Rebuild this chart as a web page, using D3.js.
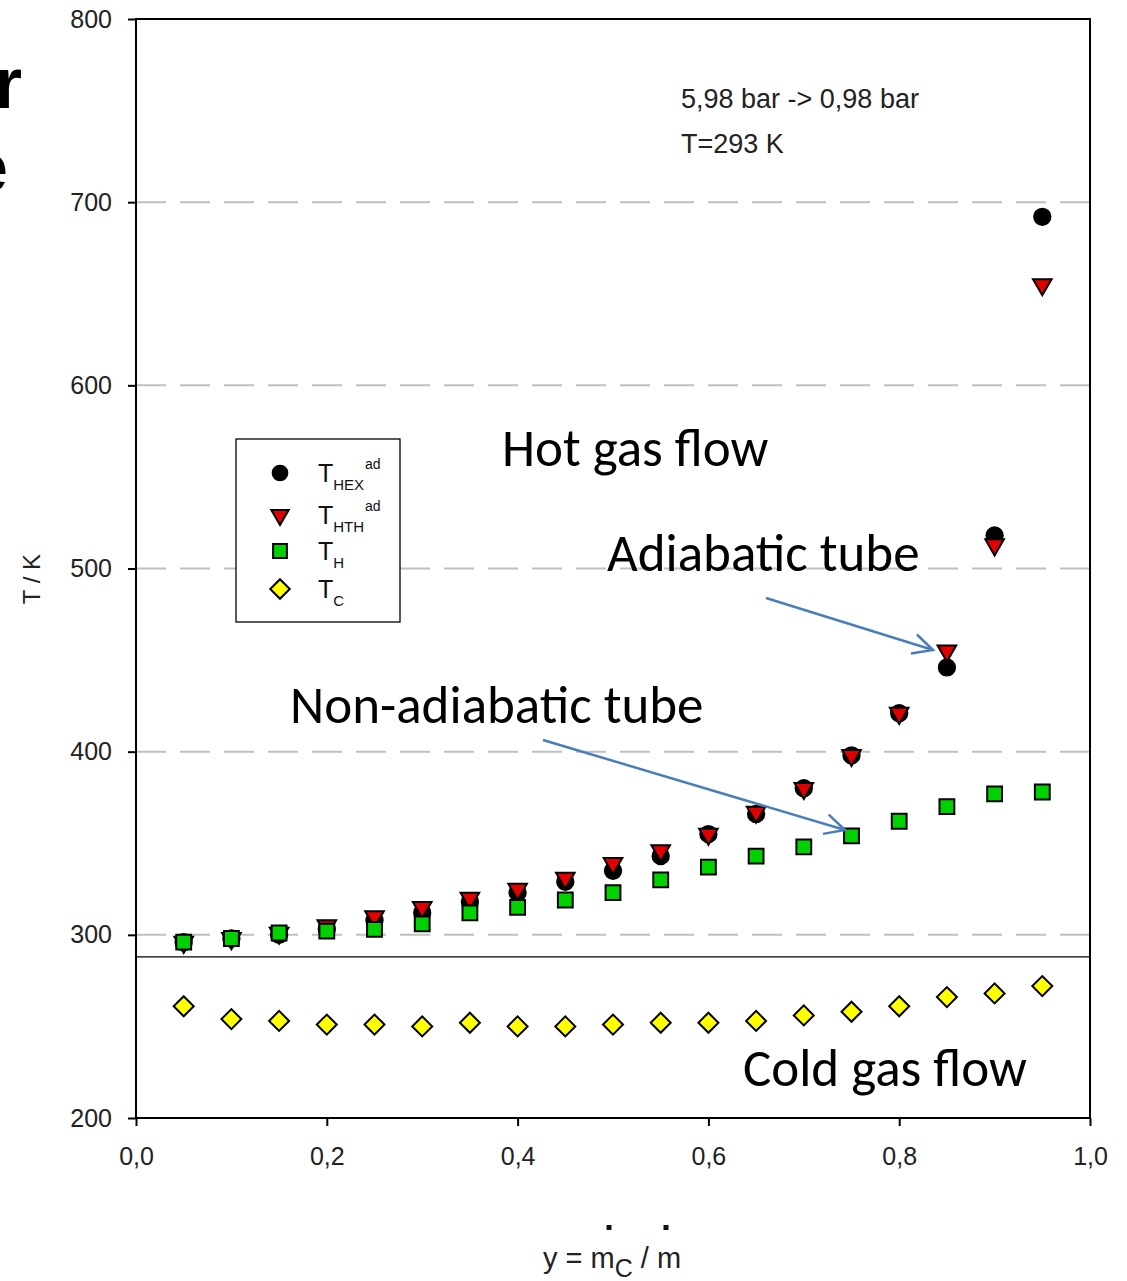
<!DOCTYPE html>
<html>
<head>
<meta charset="utf-8">
<script src="https://cdn.jsdelivr.net/npm/d3@7"></script>
<style>
  body { margin: 0; background: #fff; }
  svg { display: block; }
</style>
</head>
<body>
<script>
// x values: y = mC / m
var yRatio = [0.05, 0.10, 0.15, 0.20, 0.25, 0.30, 0.35, 0.40, 0.45, 0.50,
              0.55, 0.60, 0.65, 0.70, 0.75, 0.80, 0.85, 0.90, 0.95];
var tHexAd = [296, 298, 300, 303, 308, 312, 318, 323, 329, 335,
              343, 355, 366, 380, 398, 421, 446, 518, 692];
var tHthAd = [296, 298, 301, 305, 310, 315, 320, 325, 331, 339,
              346, 355, 367, 380, 398, 421, 455, 513, 655];
var tH     = [296, 298, 301, 302, 303, 306, 312, 315, 319, 323,
              330, 337, 343, 348, 354, 362, 370, 377, 378];
var tC     = [261, 254, 253, 251, 251, 250, 252, 250, 250, 251,
              252, 252, 253, 256, 258, 261, 266, 268, 272];
var xTicks = [0, 0.2, 0.4, 0.6, 0.8, 1.0];
var yTicks = [200, 300, 400, 500, 600, 700, 800];
var gridLines = [300, 400, 500, 600, 700];
var refTemp = 288;

var W = 1127, H = 1281;
var mLeft = 136, mRight = 1090, mTop = 19, mBottom = 1118;

var x = d3.scaleLinear().domain([0, 1]).range([mLeft, mRight]);
var y = d3.scaleLinear().domain([200, 800]).range([mBottom, mTop]);
var fmt = d => d3.format(".1f")(d).replace(".", ",");

var svg = d3.select("body").append("svg")
    .attr("width", W).attr("height", H)
    .style("font-family", "Arial, 'Liberation Sans', sans-serif");

// cut-off slide text at the left edge
svg.append("text").attr("x", 22).attr("y", 108)
    .attr("text-anchor", "end")
    .style("font", "bold 72px 'Liberation Sans', Arial, sans-serif")
    .text("r");
svg.append("text").attr("x", 8).attr("y", 192)
    .attr("text-anchor", "end")
    .style("font", "bold 72px 'Liberation Sans', Arial, sans-serif")
    .text("e");

// grid
svg.append("g").selectAll("line").data(gridLines).join("line")
    .attr("x1", mLeft).attr("x2", mRight)
    .attr("y1", d => y(d)).attr("y2", d => y(d))
    .attr("stroke", "#c0c0c0").attr("stroke-width", 2)
    .attr("stroke-dasharray", "30,14");

// reference line
svg.append("line")
    .attr("x1", mLeft).attr("x2", mRight)
    .attr("y1", y(refTemp)).attr("y2", y(refTemp))
    .attr("stroke", "#000").attr("stroke-width", 1.3);

// frame
svg.append("rect").attr("x", mLeft).attr("y", mTop)
    .attr("width", mRight - mLeft).attr("height", mBottom - mTop)
    .attr("fill", "none").attr("stroke", "#000").attr("stroke-width", 2);

// axes
var xAxis = svg.append("g").attr("transform", `translate(0,${mBottom})`)
    .call(d3.axisBottom(x).tickValues(xTicks).tickFormat(fmt).tickSize(8).tickPadding(21));
var yAxis = svg.append("g").attr("transform", `translate(${mLeft},0)`)
    .call(d3.axisLeft(y).tickValues(yTicks).tickSize(8).tickPadding(16));
[xAxis, yAxis].forEach(function(a) {
    a.select(".domain").remove();
    a.selectAll("line").attr("stroke", "#000").attr("stroke-width", 2);
    a.selectAll("text").attr("fill", "#222")
        .style("font-size", "25px").style("font-family", "Arial, 'Liberation Sans', sans-serif");
});

// axis titles
svg.append("text")
    .attr("transform", "translate(40,579) rotate(-90)")
    .attr("text-anchor", "middle")
    .style("font-size", "24px").attr("fill", "#222")
    .text("T / K");

var xl = svg.append("text").attr("x", 543).attr("y", 1268)
    .style("font-size", "29px").attr("fill", "#222");
xl.append("tspan").text("y = m");
xl.append("tspan").attr("dy", 9).style("font-size", "25px").text("C");
xl.append("tspan").attr("dy", -9).text(" / m");
svg.append("g").selectAll("rect").data([609, 666]).join("rect")
    .attr("x", d => d - 2.5).attr("y", 1225).attr("width", 5).attr("height", 5)
    .attr("fill", "#111");

// markers
var sym = {
    circle: d3.symbol().type(d3.symbolCircle).size(210),
    tri: d3.symbol().type(d3.symbolTriangle).size(150),
    square: d3.symbol().type(d3.symbolSquare).size(220),
    diamond: d3.symbol().type(d3.symbolSquare).size(200)
};
var series = [
    { vals: tHexAd, path: sym.circle, fill: "#000", rot: 0, lsize: 170 },
    { vals: tHthAd, path: sym.tri, fill: "#e00000", rot: 180, lsize: 130 },
    { vals: tH, path: sym.square, fill: "#00d200", rot: 0, lsize: 190 },
    { vals: tC, path: sym.diamond, fill: "#ffff00", rot: 45, lsize: 190 }
];
series.forEach(function(s) {
    svg.append("g").selectAll("path").data(s.vals).join("path")
        .attr("d", s.path())
        .attr("transform", (d, i) => `translate(${x(yRatio[i])},${y(d)}) rotate(${s.rot})`)
        .attr("fill", s.fill).attr("stroke", "#000").attr("stroke-width", 2);
});

// legend
var lg = svg.append("g").attr("transform", "translate(236,439)");
lg.append("rect").attr("width", 164).attr("height", 183)
    .attr("fill", "#fff").attr("stroke", "#000").attr("stroke-width", 1.3);
var legendItems = [
    { s: series[0], sub: "HEX", sup: "ad", yy: 34 },
    { s: series[1], sub: "HTH", sup: "ad", yy: 76 },
    { s: series[2], sub: "H", sup: "", yy: 112 },
    { s: series[3], sub: "C", sup: "", yy: 150 }
];
legendItems.forEach(function(it) {
    var p = d3.symbol().type(it.s === series[0] ? d3.symbolCircle :
        it.s === series[1] ? d3.symbolTriangle : d3.symbolSquare).size(it.s.lsize);
    lg.append("path").attr("d", p())
        .attr("transform", `translate(44,${it.yy}) rotate(${it.s.rot})`)
        .attr("fill", it.s.fill).attr("stroke", "#000").attr("stroke-width", 2);
    var t = lg.append("text").attr("x", 82).attr("y", it.yy + 9)
        .style("font-size", "25px").attr("fill", "#111");
    t.append("tspan").text("T");
    t.append("tspan").attr("dy", 8).style("font-size", "15px").text(it.sub);
    if (it.sup) {
        lg.append("text").attr("x", 129).attr("y", it.yy - 4)
            .style("font-size", "14px").attr("fill", "#111").text(it.sup);
    }
});

// conditions
svg.append("text").attr("x", 681).attr("y", 108)
    .style("font-size", "27px").attr("fill", "#222").text("5,98 bar -> 0,98 bar");
svg.append("text").attr("x", 681).attr("y", 153)
    .style("font-size", "27px").attr("fill", "#222").text("T=293 K");

// annotations
var annFont = "Carlito, Lato, 'Open Sans', sans-serif";
var notes = [
    { t: "Hot gas flow", x: 502, y: 466 },
    { t: "Adiabatic tube", x: 607, y: 571 },
    { t: "Non-adiabatic tube", x: 290, y: 723 },
    { t: "Cold gas flow", x: 743, y: 1086 }
];
svg.append("g").selectAll("text").data(notes).join("text")
    .attr("x", d => d.x).attr("y", d => d.y)
    .style("font-family", annFont).style("font-size", "53px")
    .attr("fill", "#000")
    .text(d => d.t);

// arrows
var blue = "#4a7ebb";
var arrows = [
    { x1: 766, y1: 598, x2: 933, y2: 650 },
    { x1: 543, y1: 740, x2: 845, y2: 830 }
];
arrows.forEach(function(a) {
    svg.append("line").attr("x1", a.x1).attr("y1", a.y1).attr("x2", a.x2).attr("y2", a.y2)
        .attr("stroke", blue).attr("stroke-width", 2.5);
    var ang = Math.atan2(a.y2 - a.y1, a.x2 - a.x1) * 180 / Math.PI;
    svg.append("path").attr("d", "M-20,-10L0,0L-20,10")
        .attr("transform", `translate(${a.x2},${a.y2}) rotate(${ang})`)
        .attr("fill", "none").attr("stroke", blue).attr("stroke-width", 2.5)
        .attr("stroke-linejoin", "miter");
});
</script>
</body>
</html>
